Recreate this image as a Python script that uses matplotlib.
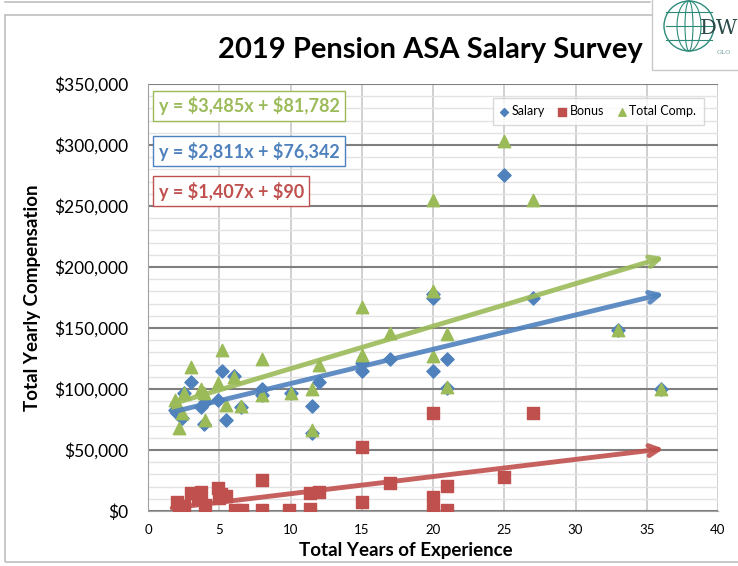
import matplotlib.pyplot as plt
from matplotlib.patches import Rectangle, Circle, Ellipse
from matplotlib.ticker import MultipleLocator, FuncFormatter

plt.rcParams['font.family'] = ['Lato', 'DejaVu Sans']

# years of experience / salary
sal_x = [1.9, 2.0, 2.4, 2.5, 3.0, 3.7, 3.9, 4.0, 4.9, 5.2, 5.5, 6.0, 6.5, 8.0, 8.0, 10.0,
         11.5, 11.5, 12.0, 15.0, 15.0, 17.0, 20.0, 20.0, 20.0, 21.0, 21.0, 25.0, 27.0, 33.0, 36.0]
sal_y = [83000, 80000, 76000, 97000, 106000, 85000, 71000, 89000, 91000, 115000, 75000, 111000,
         85000, 100000, 95000, 97000, 86000, 64000, 106000, 121000, 115000, 125000, 115000,
         175000, 178000, 125000, 101000, 275000, 175000, 148000, 100000]

bon_x = [2.0, 2.2, 2.5, 3.0, 3.5, 3.7, 4.0, 4.9, 5.0, 5.1, 5.5, 6.1, 6.6, 8.0, 8.0, 9.9,
         11.4, 11.4, 12.0, 15.0, 15.0, 17.0, 20.0, 20.0, 20.0, 21.0, 21.0, 25.0, 27.0]
bon_y = [7500, 2500, 4000, 14500, 10000, 15500, 5000, 18500, 10500, 14000, 12000, 800, 800,
         25500, 800, 800, 1500, 14500, 15500, 52500, 7500, 23000, 80000, 11500, 800, 20500,
         800, 28000, 80000]

tot_x = [1.9, 2.0, 2.2, 2.4, 2.5, 3.0, 3.7, 3.9, 4.0, 4.9, 5.2, 5.5, 6.0, 6.5, 8.0, 8.0, 10.0,
         11.5, 11.5, 12.0, 15.0, 15.0, 17.0, 20.0, 20.0, 20.0, 21.0, 21.0, 25.0, 27.0, 33.0, 36.0]
tot_y = [91000, 88000, 68000, 80000, 97000, 118000, 100000, 97000, 75000, 105000, 132000, 87000,
         110000, 86000, 125000, 95000, 97000, 100000, 66000, 120000, 167000, 128000, 146000,
         127000, 255000, 180000, 145000, 102000, 303000, 255000, 148000, 100000]

# trend lines: slope, intercept
trend_slope = [3485, 2811, 1407]
trend_icpt = [81782, 76342, 90]
trend_labels = ['y = \\$3,485x + \\$81,782', 'y = \\$2,811x + \\$76,342', 'y = \\$1,407x + \\$90']

blue = '#4F81BD'
red = '#C0504D'
green = '#9BBB59'
trend_colors = [green, blue, red]

fig = plt.figure(figsize=(7.38, 5.66), dpi=100)

# outer frame like the slide
fig.add_artist(Rectangle((5/738, 1-562/566), 740/738, (562-15)/566, transform=fig.transFigure,
                         fill=False, edgecolor='#BFBFBF', lw=1.2))
fig.add_artist(plt.Line2D([5/738, 650/738], [1-2/566, 1-2/566], transform=fig.transFigure,
                          color='#BFBFBF', lw=1.2))

ax = fig.add_axes([148/738, 1-511/566, 570/738, 427/566])
ax.set_xlim(0, 40)
ax.set_ylim(0, 350000)
ax.yaxis.set_major_locator(MultipleLocator(50000))
ax.yaxis.set_minor_locator(MultipleLocator(10000))
ax.xaxis.set_major_locator(MultipleLocator(5))
ax.yaxis.set_major_formatter(FuncFormatter(lambda v, p: '${:,.0f}'.format(v)))
ax.grid(which='minor', axis='y', color='#E3E3E3', lw=1)
ax.grid(which='major', axis='y', color='#7F7F7F', lw=1.5)
ax.grid(which='major', axis='x', color='#C8C8C8', lw=1.2)
ax.set_axisbelow(True)
for s in ['top', 'right']:
    ax.spines[s].set_visible(False)
ax.spines['left'].set_color('#A0A0A0')
ax.spines['bottom'].set_color('#A0A0A0')
ax.tick_params(axis='y', which='both', length=0, labelsize=12.5, pad=14)
ax.tick_params(axis='x', length=0, labelsize=9.5, pad=9)

ax.scatter(sal_x, sal_y, marker='D', s=45, color=blue, zorder=3, label='Salary')
ax.scatter(bon_x, bon_y, marker='s', s=75, color=red, zorder=3, label='Bonus')
ax.scatter(tot_x, tot_y, marker='^', s=80, color=green, zorder=4, label='Total Comp.')

for m, b, c in zip(trend_slope, trend_icpt, trend_colors):
    ax.annotate('', xy=(36.2, m*36.2 + b), xytext=(1.7, m*1.7 + b),
                arrowprops=dict(arrowstyle='->', color=c, lw=3.5, mutation_scale=18,
                                shrinkA=0, shrinkB=0, alpha=0.9), zorder=5)

box_y = [332000, 295000, 262000]
for lab, c, yy in zip(trend_labels, trend_colors, box_y):
    ax.text(0.75, yy, lab, color=c, fontsize=13, fontweight='bold', va='center', ha='left',
            zorder=6, bbox=dict(boxstyle='square,pad=0.3', fc='white', ec=c, lw=1))

leg = ax.legend(loc='upper right', bbox_to_anchor=(0.986, 0.982), ncol=3, fontsize=9,
                handlelength=0.6, handletextpad=0.3, columnspacing=1.1, markerscale=0.6,
                frameon=True, fancybox=False, borderpad=0.6)
leg.get_frame().set_edgecolor('#D0D0D0')

ax.set_ylabel('Total Yearly Compensation', fontsize=13.5, fontweight='bold')
ax.yaxis.set_label_coords(-0.187, 0.5)
ax.set_xlabel('Total Years of Experience', fontsize=13.5, fontweight='bold')
ax.xaxis.set_label_coords((406-148)/570, -0.072)
fig.text(430/738, 1-50/566, '2019 Pension ASA Salary Survey', fontsize=21, fontweight='bold',
         ha='center', va='center')

# logo
fig.add_artist(Rectangle((652/738, 1-70/566), 90/738, 72/566, transform=fig.transFigure,
                         fc='white', ec='#C8C8C8', lw=1, zorder=10))
lax = fig.add_axes([655/738, 1-66/566, 83/738, 66/566], zorder=11)
lax.set_xlim(0, 83)
lax.set_ylim(0, 66)
lax.axis('off')
lax.add_patch(Circle((34, 40), 25, fill=False, ec='#2E8B7A', lw=1))
lax.add_patch(Ellipse((34, 40), 24, 50, fill=False, ec='#2E8B7A', lw=0.8))
lax.add_patch(Ellipse((34, 40), 8, 50, fill=False, ec='#2E8B7A', lw=0.8))
for yy in [26, 40, 54]:
    lax.plot([11, 57], [yy, yy], color='#2E8B7A', lw=0.8)
lax.text(45, 38, 'DW', fontsize=15, family='DejaVu Serif', color='#2A4A4A', va='center')
lax.text(62, 14, 'GLO', fontsize=4.5, family='DejaVu Serif', color='#6A9A9A', va='center')

fig.savefig('out.png', dpi=100)
